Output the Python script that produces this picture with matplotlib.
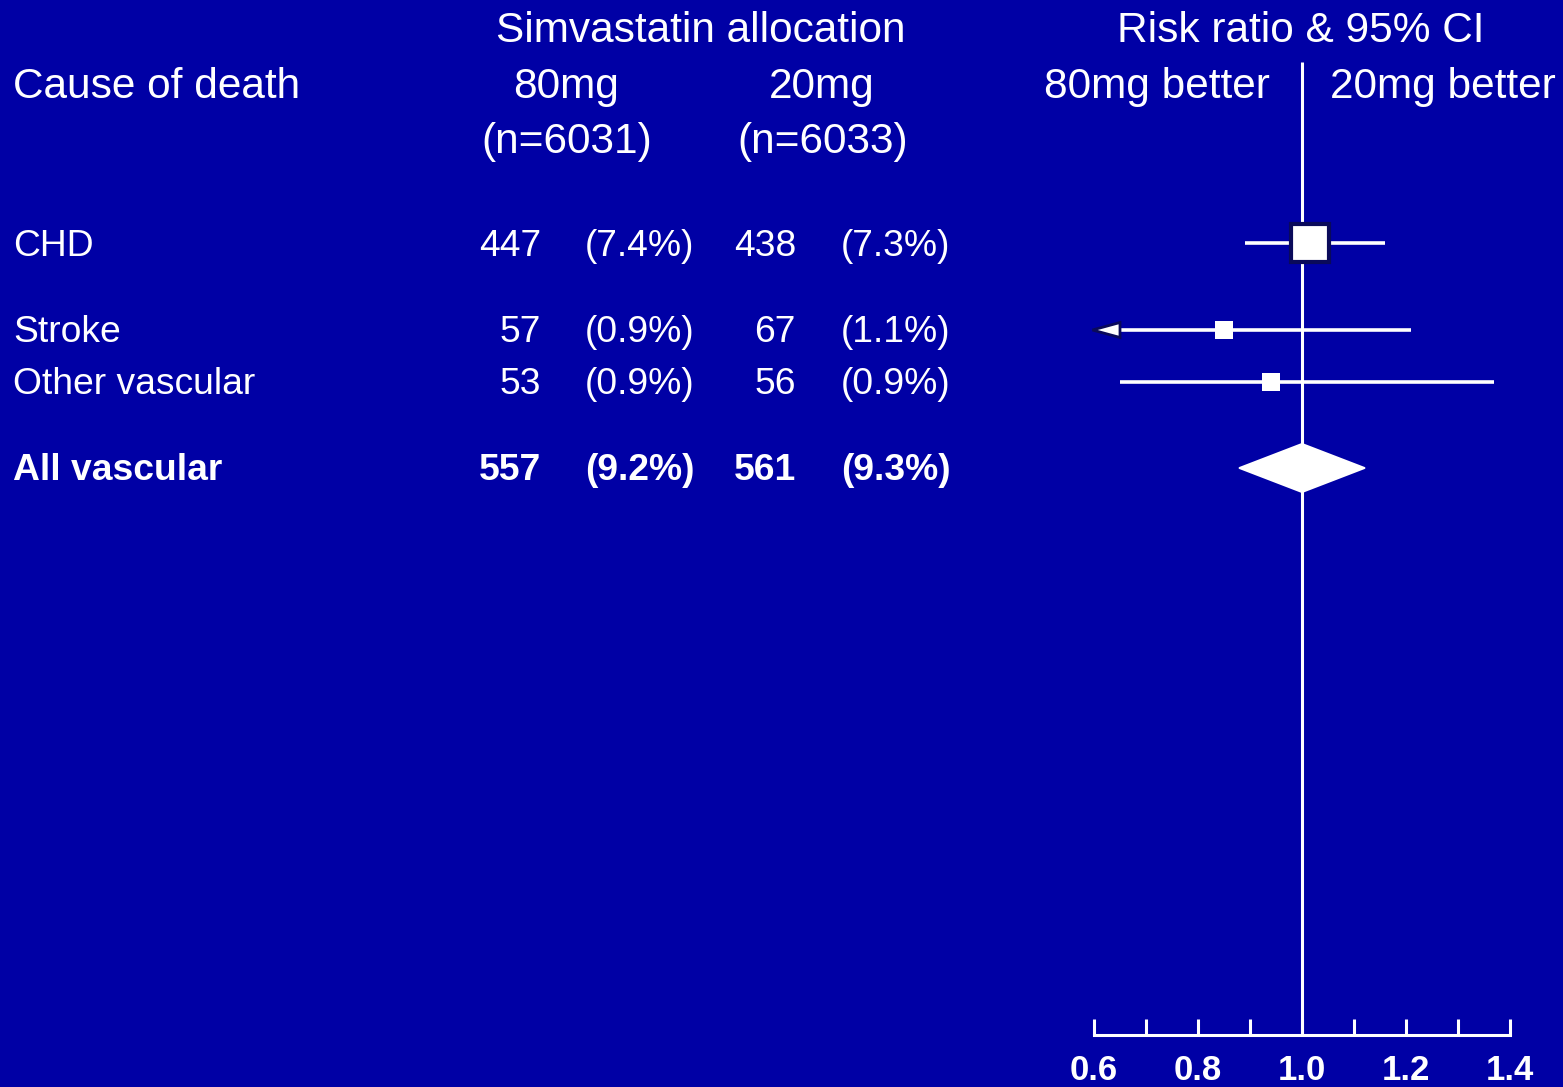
import matplotlib.pyplot as plt
from matplotlib.patches import Polygon

plt.rcParams['font.family'] = ['Liberation Sans', 'DejaVu Sans']

# deaths by cause, simvastatin 80mg vs 20mg
causes = ["CHD", "Stroke", "Other vascular", "All vascular"]
n80 = [447, 57, 53, 557]
pct80 = [7.4, 0.9, 0.9, 9.2]
n20 = [438, 67, 56, 561]
pct20 = [7.3, 1.1, 0.9, 9.3]
rr = [1.015, 0.85, 0.94, 1.00]
rr_lo = [0.89, 0.55, 0.65, 0.88]
rr_hi = [1.16, 1.21, 1.37, 1.12]
box_size = [28, 13, 13, 0]   # marker size (pt); last row is the diamond
total_row = [False, False, False, True]

ticks_major = [0.6, 0.8, 1.0, 1.2, 1.4]
ticks_minor = [0.7, 0.9, 1.1, 1.3]

# layout (pixels from top)
W, H = 1563, 1087
row_y = [243, 330, 382, 468]
axis_y = 1035
ref_top = 62

bg = '#0000A5'
navy = '#0A0A5A'
fg = 'white'

fig = plt.figure(figsize=(W / 100, H / 100), dpi=100, facecolor=bg)

# text layer in pixel coordinates
tx = fig.add_axes([0, 0, 1, 1])
tx.set_xlim(0, W)
tx.set_ylim(H, 0)
tx.axis('off')

hs = 30.5
rs = 26.8
tx.text(701, 42, "Simvastatin allocation", fontsize=hs, color=fg, ha='center', va='baseline')
tx.text(1301, 42, "Risk ratio & 95% CI", fontsize=hs, color=fg, ha='center', va='baseline')
tx.text(13, 98, "Cause of death", fontsize=hs, color=fg, ha='left', va='baseline')
tx.text(566, 98, "80mg", fontsize=hs, color=fg, ha='center', va='baseline')
tx.text(822, 98, "20mg", fontsize=hs, color=fg, ha='center', va='baseline')
tx.text(567, 153, "(n=6031)", fontsize=hs, color=fg, ha='center', va='baseline')
tx.text(823, 153, "(n=6033)", fontsize=hs, color=fg, ha='center', va='baseline')
tx.text(1270, 98, "80mg better", fontsize=hs, color=fg, ha='right', va='baseline')
tx.text(1330, 98, "20mg better", fontsize=hs, color=fg, ha='left', va='baseline')

for i, name in enumerate(causes):
    y = row_y[i] + 12.5
    wt = 'bold' if total_row[i] else 'normal'
    kw = dict(fontsize=rs, color=fg, va='baseline', fontweight=wt)
    tx.text(13, y, name, ha='left', **kw)
    tx.text(541, y, f"{n80[i]}", ha='right', **kw)
    tx.text(585, y, f"({pct80[i]:.1f}%)", ha='left', **kw)
    tx.text(796, y, f"{n20[i]}", ha='right', **kw)
    tx.text(841, y, f"({pct20[i]:.1f}%)", ha='left', **kw)

# forest plot: x in risk ratio, y shares the pixel rows
x0, x1 = 1094, 1510
ax = fig.add_axes([x0 / W, 0, (x1 - x0) / W, 1])
ax.set_facecolor('none')
ax.set_xlim(ticks_major[0], ticks_major[-1])
ax.set_ylim(H, 0)
for s in ['top', 'left', 'right']:
    ax.spines[s].set_visible(False)
ax.spines['bottom'].set_position(('data', axis_y))
ax.spines['bottom'].set_color(fg)
ax.spines['bottom'].set_linewidth(2.2)
ax.spines['bottom'].set_capstyle('projecting')
ax.set_yticks([])
ax.set_xticks(ticks_major)
ax.set_xticks(ticks_minor, minor=True)
ax.set_xticklabels([f"{t:.1f}" for t in ticks_major], fontsize=25, fontweight='bold', color=fg)
ax.tick_params(axis='x', which='both', direction='in', length=11.5, width=2.2, color=fg, pad=13.5)

ax.vlines(1.0, ref_top, axis_y, color=fg, lw=2.2, zorder=2)

xmin = ticks_major[0]
for i in range(len(causes)):
    y = row_y[i]
    if total_row[i]:
        dh = 24
        ax.add_patch(Polygon([(rr_lo[i], y), (rr[i], y - dh), (rr_hi[i], y), (rr[i], y + dh)],
                             closed=True, facecolor=fg, edgecolor=fg, lw=1.5,
                             joinstyle='round', zorder=4))
        continue
    lo = rr_lo[i]
    if lo < xmin:
        # interval runs off the scale: arrow at the left end
        tip = xmin - 0.003
        base = xmin + 0.05
        ax.hlines(y, base, rr_hi[i], color=fg, lw=2.6, zorder=3)
        ax.add_patch(Polygon([(tip, y), (base, y - 7.5), (base, y + 7.5)], closed=True,
                             facecolor=fg, edgecolor=navy, lw=2, clip_on=False, zorder=4))
    else:
        ax.hlines(y, lo, rr_hi[i], color=fg, lw=2.6, zorder=3)
    big = box_size[i] > 20
    ax.plot(rr[i], y, marker='s', ms=box_size[i], mfc=fg,
            mec=navy if big else fg, mew=3 if big else 0, zorder=5)

fig.savefig('out.png', dpi=100, facecolor=bg)
